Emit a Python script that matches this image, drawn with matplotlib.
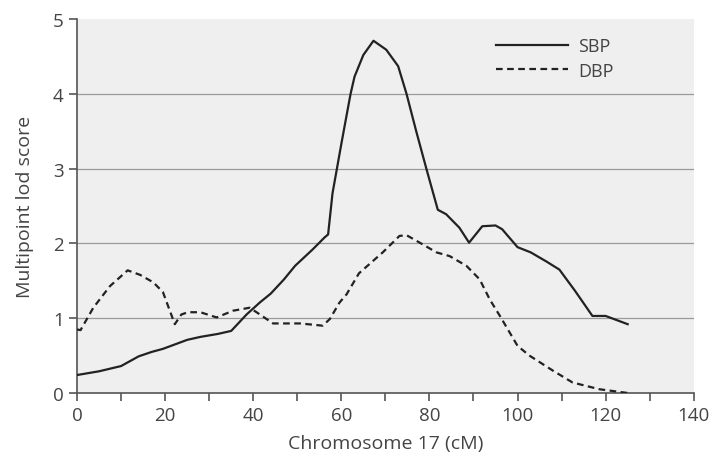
import matplotlib
matplotlib.use("Agg")
import matplotlib.pyplot as plt

# Posición en el cromosoma 17 (cM) y puntuación lod multipunto
pos_sbp = [0, 5, 10, 14, 17, 19.5, 25, 28, 32, 35, 38.5, 41.5, 44, 47, 49.5, 53.5,
           56.2, 57, 58, 59, 60, 61, 62.1, 63, 65, 67.3, 70.2, 72.9, 74.8, 77,
           79.3, 81.9, 83.8, 86.8, 89, 92, 95, 96.5, 100, 103, 106.5, 109.5, 113,
           117, 120, 125]
lod_sbp = [0.24, 0.29, 0.36, 0.49, 0.55, 0.59, 0.71, 0.75, 0.79, 0.83, 1.05, 1.21,
           1.33, 1.52, 1.70, 1.92, 2.08, 2.12, 2.67, 3.0, 3.33, 3.65, 4.0, 4.23,
           4.52, 4.71, 4.59, 4.37, 4.0, 3.5, 3.0, 2.45, 2.39, 2.21, 2.01, 2.23,
           2.24, 2.19, 1.95, 1.88, 1.76, 1.65, 1.37, 1.03, 1.03, 0.92]

pos_dbp = [0, 0.8, 3.7, 7.5, 11.5, 14.3, 17.3, 19.5, 22.2, 23.7, 25.2, 28, 31.7,
           35.4, 39.2, 41, 44.5, 50.6, 55.8, 57.4, 59.6, 61.2, 64, 69.4, 73.2,
           74.8, 77.8, 81.6, 84.6, 88.4, 91.4, 93.7, 96, 100, 102.7, 108, 112.5,
           118.6, 125]
lod_dbp = [0.85, 0.84, 1.14, 1.43, 1.64, 1.58, 1.48, 1.35, 0.92, 1.05, 1.08,
           1.08, 1.01, 1.10, 1.14, 1.07, 0.93, 0.93, 0.90, 0.99, 1.21, 1.32,
           1.60, 1.88, 2.10, 2.11, 2.01, 1.88, 1.83, 1.70, 1.52, 1.25, 1.03,
           0.63, 0.50, 0.30, 0.14, 0.05, 0.0]

plt.rcParams['font.family'] = ['Open Sans', 'DejaVu Sans']

fig = plt.figure(figsize=(7.13, 4.56), dpi=100)
ax = fig.add_axes([0.108, 0.136, 0.865, 0.820])
ax.set_facecolor('#efefef')

for y in [1, 2, 3, 4]:
    ax.axhline(y, color='#9a9a9a', lw=0.9, zorder=1)

ax.plot(pos_sbp, lod_sbp, color='#222222', lw=1.6, label='SBP', zorder=3)
ax.plot(pos_dbp, lod_dbp, color='#222222', lw=1.6, ls=(0, (3, 2)),
        label='DBP', zorder=3)

ax.set_xlim(0, 140)
ax.set_ylim(0, 5)
ax.set_xticks(range(0, 141, 20))
ax.set_xticks(range(0, 141, 10), minor=True)
ax.set_yticks(range(0, 6))

for s in ['top', 'right']:
    ax.spines[s].set_visible(False)
for s in ['left', 'bottom']:
    ax.spines[s].set_color('#555555')
    ax.spines[s].set_linewidth(1.2)

ax.tick_params(axis='both', which='both', color='#555555', width=1.2,
               labelsize=13.5, labelcolor='#444444')
ax.tick_params(axis='both', which='major', length=6)
ax.tick_params(axis='x', which='minor', length=6)

ax.set_xlabel('Chromosome 17 (cM)', fontsize=14, color='#444444', labelpad=7)
ax.set_ylabel('Multipoint lod score', fontsize=14, color='#444444', labelpad=14)

leg = ax.legend(loc='upper right', bbox_to_anchor=(0.896, 0.995), frameon=False,
                fontsize=13, handlelength=4.0, handletextpad=0.55,
                labelspacing=0.35)
for t in leg.get_texts():
    t.set_color('#444444')

fig.savefig('out.png', dpi=100, facecolor='white')
